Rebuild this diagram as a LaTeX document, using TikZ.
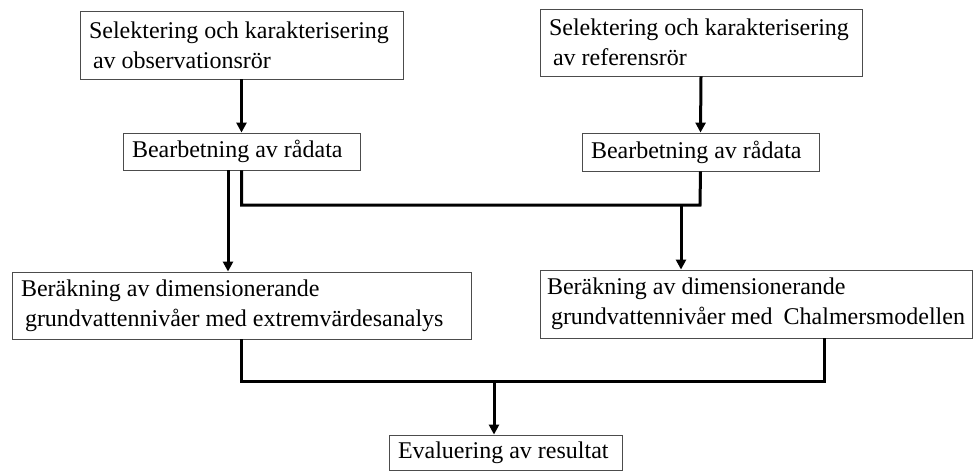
\documentclass[tikz,border=0pt]{standalone}
\usepackage{fontspec}
\setmainfont{Liberation Serif}
\usepackage{tikz}
\usetikzlibrary{arrows.meta,positioning,calc}

\begin{document}
\begin{tikzpicture}[
  x=1pt,y=-1pt,
  every node/.style={font=\fontsize{24}{30}\selectfont},
  stepbox/.style={rectangle,draw=black!70,line width=0.9pt,align=flush left,inner xsep=9pt,inner ysep=0pt},
  link/.style={line width=3pt},
  arr/.style={link,-{Triangle[length=10pt,width=10pt]}},
]
\useasboundingbox (0,0) rectangle (974,472);

\node[stepbox,text width=305,minimum height=68] (obs) at (241.5,45)
  {Selektering och karakterisering\\\hspace{4pt}av observationsrör};
\node[stepbox,text width=304,minimum height=67] (ref) at (701,42.5)
  {Selektering och karakterisering\\\hspace{4pt}av referensrör};
\node[stepbox,text width=219,minimum height=37] (rawl) at (241.5,151.5) {Bearbetning av rådata};
\node[stepbox,text width=219,minimum height=38] (rawr) at (700.5,152) {Bearbetning av rådata};
\node[stepbox,text width=441,minimum height=67] (ext) at (241.5,305.5)
  {Beräkning av dimensionerande\\\hspace{4pt}grundvattennivåer med extremvärdesanalys};
\node[stepbox,inner xsep=7pt,text width=418,minimum height=68] (chal) at (756,304)
  {Beräkning av dimensionerande\\\hspace{4pt}grundvattennivåer med\ \ Chalmersmodellen};
\node[stepbox,text width=215,minimum height=35] (eval) at (505.5,452.5) {Evaluering av resultat};

% junctions
\coordinate (j1) at (700,205);
\coordinate (s1) at (681,205);
\coordinate (j2) at (824,381);
\coordinate (s2) at (494,381);

\draw[arr] (obs.south) -- (rawl.north);
\draw[arr] (ref.south) -- (rawr.north);
\draw[arr] ([xshift=-13.5]rawl.south) -- ([xshift=-13.5]rawl.south |- ext.north);
\draw[link] (rawl.south) |- (j1) -- (rawr.south);
\draw[arr] (s1) -- (s1 |- chal.north);
\draw[link] ([xshift=-0.5]ext.south) |- (j2) -- (j2 |- chal.south);
\draw[arr] (s2) -- (s2 |- eval.north);
\end{tikzpicture}
\end{document}
